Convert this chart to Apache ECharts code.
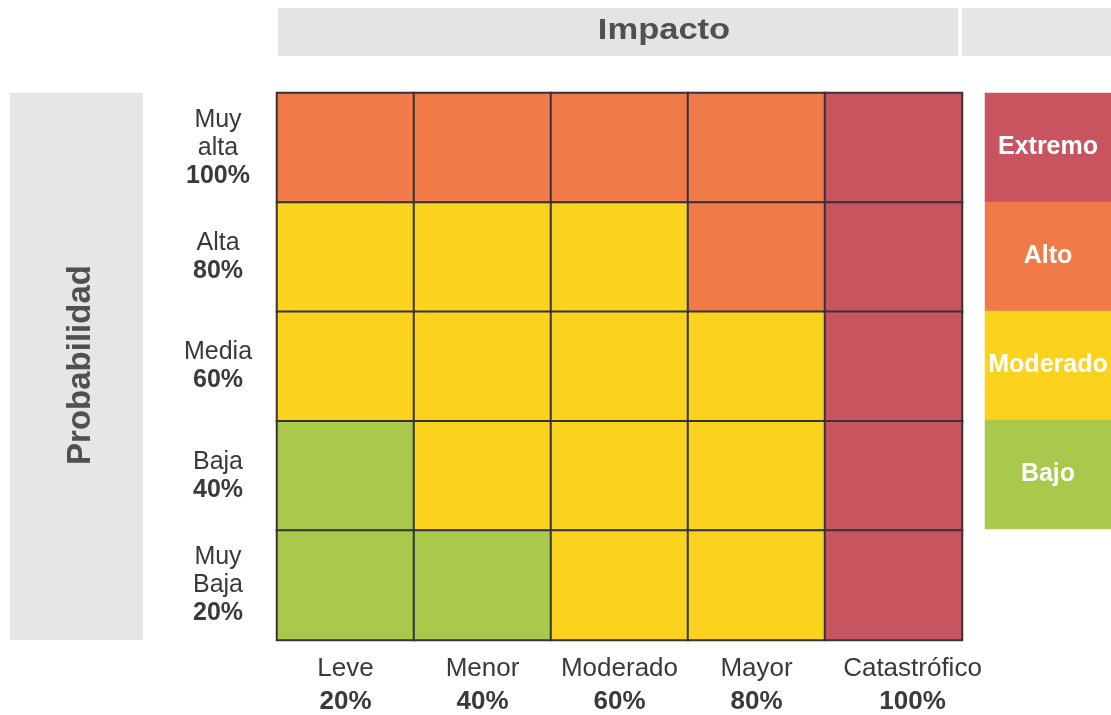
<!DOCTYPE html>
<html>
<head>
<meta charset="utf-8">
<script src="https://cdn.jsdelivr.net/npm/echarts@6/dist/echarts.min.js"></script>
<style>
html,body{margin:0;padding:0;background:#fff;}
#c{width:1111px;height:715px;}
</style>
</head>
<body>
<div id="c"></div>
<script>
// ---- data ----
const impactLabels = ['Leve', 'Menor', 'Moderado', 'Mayor', 'Catastrófico'];
const impactPct = ['20%', '40%', '60%', '80%', '100%'];
const probLabels = ['Muy\nalta', 'Alta', 'Media', 'Baja', 'Muy\nBaja'];
const probPct = ['100%', '80%', '60%', '40%', '20%'];
// rows: probability (top -> bottom), cols: impact; 0=Bajo 1=Moderado 2=Alto 3=Extremo
const riskMatrix = [
  [2, 2, 2, 2, 3],
  [1, 1, 1, 2, 3],
  [1, 1, 1, 1, 3],
  [0, 1, 1, 1, 3],
  [0, 0, 1, 1, 3]
];
const levelNames = ['Bajo', 'Moderado', 'Alto', 'Extremo'];
const legendOrder = [3, 2, 1, 0];
const titleX = 'Impacto';
const titleY = 'Probabilidad';

// ---- build ----
const levelColors = ['#A9C84C', '#FBD31F', '#F07A48', '#C8545F'];
const cells = [];
riskMatrix.forEach((row, r) => row.forEach((v, c) => cells.push([c, r, v])));
const legendCells = legendOrder.map((lv, i) => [0, i, lv]);

const chart = echarts.init(document.getElementById('c'));
const txt = '#3a3a3a';
const ff = '"Liberation Sans", Arial, sans-serif';
chart.setOption({
  backgroundColor: '#ffffff',
  animation: false,
  graphic: [
    { type: 'rect', shape: { x: 278, y: 8, width: 680, height: 48 }, style: { fill: '#e5e4e5' }, z: -10 },
    { type: 'rect', shape: { x: 962, y: 8, width: 150, height: 48 }, style: { fill: '#e7e6e7' }, z: -10 },
    { type: 'rect', shape: { x: 10, y: 93, width: 133, height: 547 }, style: { fill: '#e7e6e7' }, z: -10 },
    { type: 'text', x: 664, y: 31, scaleX: 1.15, style: { text: titleX, fill: '#505050', font: 'bold 30px ' + ff, textAlign: 'center', textVerticalAlign: 'middle' } },
    { type: 'text', x: 81, y: 365, rotation: Math.PI / 2, style: { text: titleY, fill: '#505050', font: 'bold 33px ' + ff, textAlign: 'center', textVerticalAlign: 'middle' } }
  ],
  visualMap: {
    type: 'piecewise', show: false, dimension: 2, seriesIndex: [0, 1],
    pieces: levelNames.map((n, i) => ({ value: i, color: levelColors[i], label: n }))
  },
  grid: [
    { left: 277, top: 93, width: 685, height: 547 },
    { left: 985, top: 93, width: 134, height: 436 }
  ],
  xAxis: [
    {
      type: 'category', gridIndex: 0, data: impactLabels,
      axisLine: { show: false }, axisTick: { show: false }, splitLine: { show: false },
      axisLabel: {
        margin: 12, interval: 0,
        formatter: (v, i) => i === impactLabels.length - 1
          ? `{nr|${v}}\n{pr|${impactPct[i]}}`
          : `{n|${v}}\n{p|${impactPct[i]}}`,
        rich: {
          n: { fontSize: 26, lineHeight: 33, color: txt, fontFamily: ff },
          p: { fontSize: 26, lineHeight: 33, color: txt, fontWeight: 'bold', fontFamily: ff },
          nr: { fontSize: 26, lineHeight: 33, color: txt, fontFamily: ff, padding: [0, 0, 0, 38] },
          pr: { fontSize: 26, lineHeight: 33, color: txt, fontWeight: 'bold', fontFamily: ff, padding: [0, 0, 0, 38] }
        }
      }
    },
    { type: 'category', gridIndex: 1, data: ['nivel'], show: false }
  ],
  yAxis: [
    {
      type: 'category', gridIndex: 0, data: probLabels, inverse: true,
      axisLine: { show: false }, axisTick: { show: false }, splitLine: { show: false },
      axisLabel: {
        margin: 59, align: 'center', interval: 0,
        formatter: (v, i) => v.split('\n').map(s => `{n|${s}}`).join('\n') + `\n{p|${probPct[i]}}`,
        rich: {
          n: { fontSize: 25, lineHeight: 28, color: txt, align: 'center', fontFamily: ff },
          p: { fontSize: 25, lineHeight: 28, color: txt, align: 'center', fontWeight: 'bold', fontFamily: ff }
        }
      }
    },
    { type: 'category', gridIndex: 1, data: legendOrder.map(l => levelNames[l]), inverse: true, show: false }
  ],
  series: [
    {
      type: 'heatmap', xAxisIndex: 0, yAxisIndex: 0, data: cells,
      itemStyle: { borderColor: '#34323a', borderWidth: 2 },
      label: { show: false },
      emphasis: { disabled: true }
    },
    {
      type: 'heatmap', xAxisIndex: 1, yAxisIndex: 1, data: legendCells,
      itemStyle: { borderWidth: 0 },
      label: {
        show: true, color: '#ffffff', fontSize: 25, fontWeight: 'bold', fontFamily: ff,
        formatter: p => levelNames[p.value[2]]
      },
      emphasis: { disabled: true }
    }
  ]
});
</script>
</body>
</html>
